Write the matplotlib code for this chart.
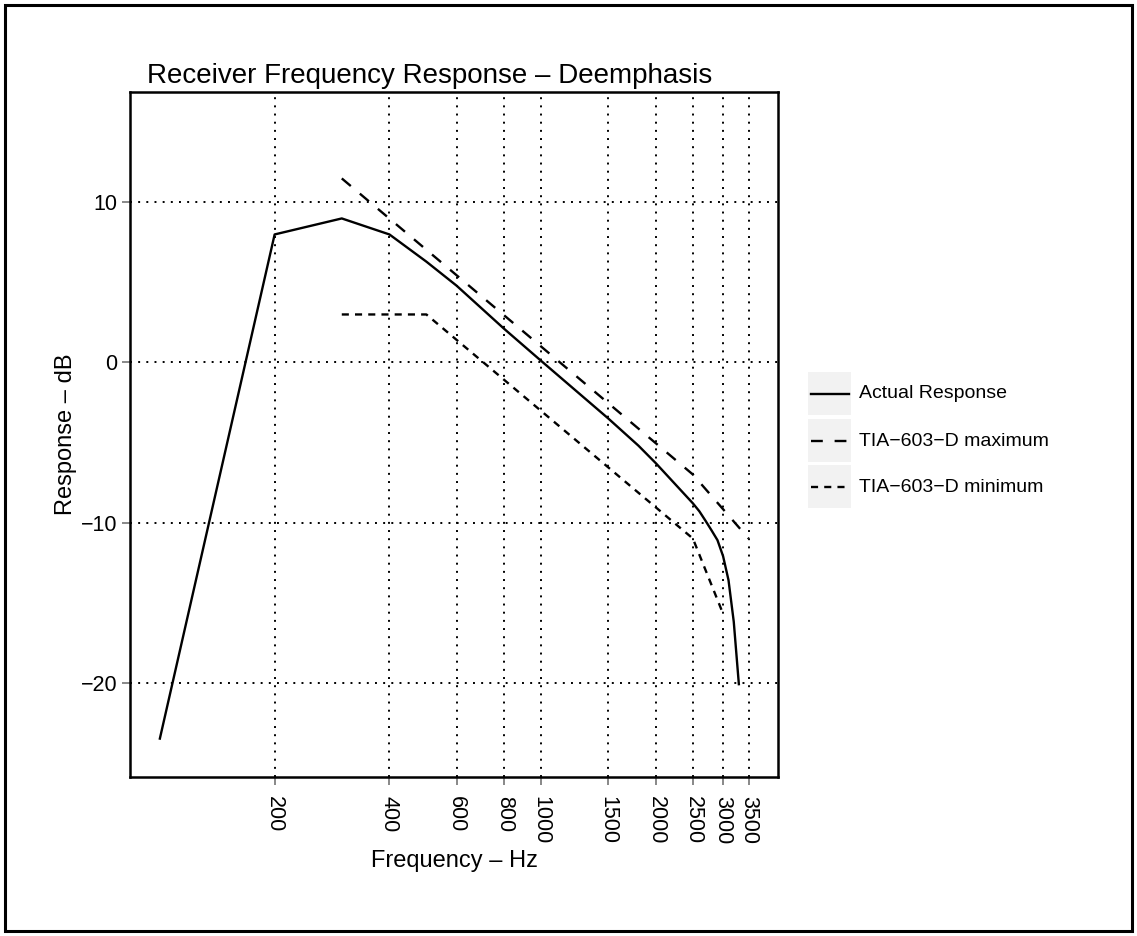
import numpy as np
import matplotlib
matplotlib.use("Agg")
import matplotlib.pyplot as plt
from matplotlib.patches import Rectangle
from matplotlib.lines import Line2D
from matplotlib.ticker import FixedLocator, NullLocator

plt.rcParams['font.family'] = ['Liberation Sans', 'DejaVu Sans']

# actual measured response
freq_actual = [100, 200, 300, 400, 500, 600, 800, 1000, 1500, 1800, 2000,
               2500, 2600, 2700, 2800, 2900, 3000, 3100, 3200, 3300]
resp_actual = [-23.5, 8.0, 9.0, 8.0, 6.3, 4.8, 2.1, 0.1, -3.5, -5.2, -6.3,
               -8.8, -9.3, -9.9, -10.5, -11.1, -12.1, -13.6, -16.2, -20.1]

# TIA-603-D limits
freq_max = [300, 2500, 3500]
resp_max = [11.5, -7.0, -11.0]
freq_min = [300, 500, 2500, 3000]
resp_min = [3.0, 3.0, -11.0, -15.7]

xbreaks = [200, 400, 600, 800, 1000, 1500, 2000, 2500, 3000, 3500]
ybreaks = [-20, -10, 0, 10]
names = ['Actual Response', 'TIA\u2212603\u2212D maximum', 'TIA\u2212603\u2212D minimum']

W, H = 1137, 936
fig = plt.figure(figsize=(W / 100, H / 100), dpi=100)
ax = fig.add_axes([130 / W, 1 - 777 / H, (778 - 130) / W, (777 - 92) / H])

styles = ['-', (0, (5, 5)), (0, (3, 2.6))]
lw = 1.7
ax.plot(freq_actual, resp_actual, color='black', lw=lw, linestyle=styles[0], zorder=3)
ax.plot(freq_max, resp_max, color='black', lw=lw, linestyle=styles[1], zorder=3)
ax.plot(freq_min, resp_min, color='black', lw=lw, linestyle=styles[2], zorder=3)

ax.set_xscale('log')
ax.set_xlim(83.5, 4180)
ax.set_ylim(-25.9, 16.9)
ax.xaxis.set_major_locator(FixedLocator(xbreaks))
ax.xaxis.set_minor_locator(NullLocator())
ax.set_xticklabels([str(b) for b in xbreaks], rotation=-90, fontsize=15.5)
ax.yaxis.set_major_locator(FixedLocator(ybreaks))
ax.set_yticklabels([str(b).replace('-', '\u2212') for b in ybreaks], fontsize=15.5)
ax.tick_params(axis='both', color='#7f7f7f', length=6, width=1.3, pad=3)
ax.tick_params(axis='x', pad=8)

ax.grid(True, color='black', linestyle=(0, (1, 3.2)), linewidth=1.4)
ax.set_axisbelow(True)
for s in ax.spines.values():
    s.set_linewidth(1.8)
    s.set_color('black')

ax.set_xlabel('Frequency \u2013 Hz', fontsize=17, labelpad=4)
ax.set_ylabel('Response \u2013 dB', fontsize=17, labelpad=3)
fig.text(147 / W, 1 - 83 / H, 'Receiver Frequency Response \u2013 Deemphasis',
         fontsize=20, ha='left', va='baseline')

# legend drawn as ggplot style keys
key_top = [372, 419, 465]
for i, name in enumerate(names):
    y0 = key_top[i]
    fig.add_artist(Rectangle((808 / W, 1 - (y0 + 43) / H), 43 / W, 43 / H,
                             transform=fig.transFigure, facecolor='#f2f2f2',
                             edgecolor='none'))
    yc = 1 - (y0 + 22) / H
    fig.add_artist(Line2D([811 / W, 849 / W], [yc, yc], transform=fig.transFigure,
                          color='black', lw=lw, linestyle=styles[i]))
    fig.text(859 / W, yc, name, fontsize=14, ha='left', va='center')

# outer border
fig.add_artist(Rectangle((5 / W, 5 / H), (W - 10) / W, (H - 10) / H,
                         transform=fig.transFigure, fill=False,
                         edgecolor='black', lw=2.2))

fig.savefig('out.png', dpi=100)
